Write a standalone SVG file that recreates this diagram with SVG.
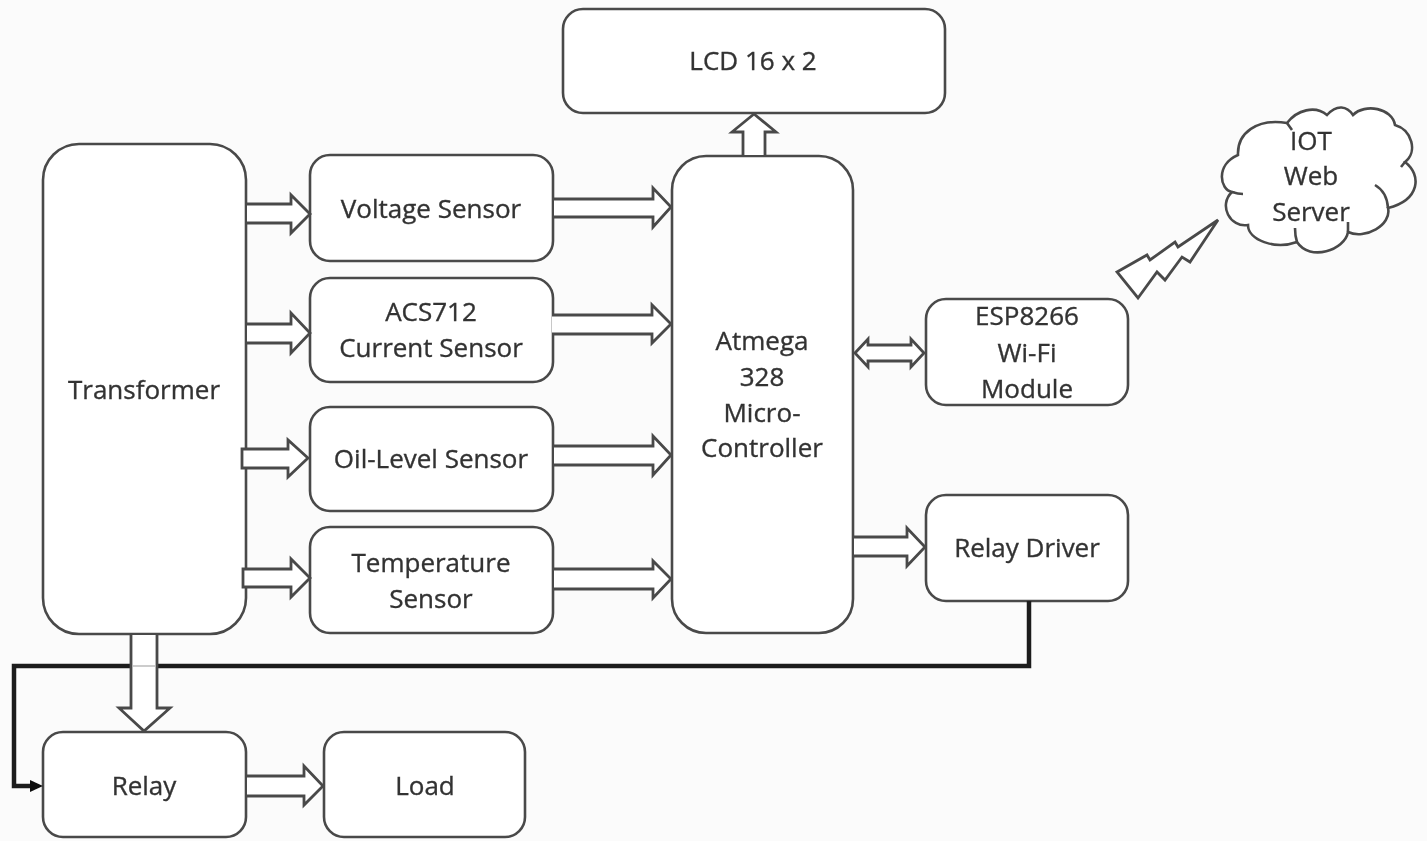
<svg xmlns="http://www.w3.org/2000/svg" width="1427" height="841" viewBox="0 0 1427 841">
<style>
.n{fill:#fff;stroke:#4a4a4a;stroke-width:2.6}
.a{fill:#fff;stroke:#4a4a4a;stroke-width:2.8;stroke-linejoin:miter}
.l{fill:none;stroke:#4a4a4a;stroke-width:2.6}
text{font-family:"Open Sans","Noto Sans","Liberation Sans",sans-serif;font-size:26px;fill:#333;stroke:#333;stroke-width:.35;text-anchor:middle}
</style>
<defs><filter id="soft" filterUnits="userSpaceOnUse" x="0" y="0" width="1427" height="841"><feGaussianBlur stdDeviation="0.6"/></filter></defs>
<rect width="1427" height="841" fill="#fbfbfb"/>
<g filter="url(#soft)">
<g id="lcd"><rect class="n" x="563" y="9" width="382" height="104" rx="20"/><text x="753" y="70">LCD 16 x 2</text></g>
<g id="transformer"><rect class="n" x="43" y="144" width="203" height="490" rx="36"/><text x="144" y="399">Transformer</text></g>
<g id="voltage"><rect class="n" x="310" y="155" width="243" height="106" rx="20"/><text x="431" y="218">Voltage Sensor</text></g>
<g id="current"><rect class="n" x="310" y="278" width="243" height="104" rx="20"/><text x="431" y="321">ACS712</text><text x="431" y="357">Current Sensor</text></g>
<g id="oil"><rect class="n" x="310" y="407" width="243" height="104" rx="20"/><text x="431" y="468">Oil-Level Sensor</text></g>
<g id="temperature"><rect class="n" x="310" y="527" width="243" height="106" rx="20"/><text x="431" y="572">Temperature</text><text x="431" y="608">Sensor</text></g>
<g id="mcu"><rect class="n" x="672" y="156" width="181" height="477" rx="34"/><text x="762" y="350">Atmega</text><text x="762" y="386">328</text><text x="762" y="422">Micro-</text><text x="762" y="457">Controller</text></g>
<g id="esp"><rect class="n" x="926" y="299" width="202" height="106" rx="20"/><text x="1027" y="325">ESP8266</text><text x="1027" y="362">Wi-Fi</text><text x="1027" y="398">Module</text></g>
<g id="driver"><rect class="n" x="926" y="495" width="202" height="106" rx="20"/><text x="1027" y="557">Relay Driver</text></g>
<g id="relay"><rect class="n" x="43" y="732" width="203" height="105" rx="20"/><text x="144" y="795">Relay</text></g>
<g id="load"><rect class="n" x="324" y="732" width="201" height="105" rx="20"/><text x="425" y="795">Load</text></g>
<g id="cloud">
<path class="n" d="M1232 192C1220 190 1215 165 1238 155C1237 133 1257 118 1287 123C1297 110 1315 105 1327 115C1337 104 1347 106 1353 115C1365 103 1392 108 1395 125C1412 130 1418 152 1405 162C1422 175 1420 200 1388 208C1392 225 1365 240 1348 232C1345 250 1310 262 1297 242C1275 250 1248 240 1248 225C1230 228 1218 205 1232 192Z"/>
<path class="l" d="M1232 192Q1238 194 1243 194M1375 185Q1387 192 1388 208M1295 228Q1295 236 1297 242M1348 222V232M1287 123L1292 130M1405 162L1401 167"/>
<text x="1311" y="150">IOT</text><text x="1311" y="185">Web</text><text x="1311" y="221">Server</text></g>
<g id="connectors">
<path d="M1029 601V666H14V786H32" fill="none" stroke="#1a1a1a" stroke-width="4.5"/>
<path d="M30 780L43 786L30 792Z" fill="#111"/>
<path class="a" d="M247 204H291V195L310 214L291 233V223H247"/>
<path class="a" d="M554 199H653V188L671 207L653 227V217H554"/>
<path class="a" d="M247 324H291V313L310 333L291 353V343H247"/>
<path class="a" d="M552 315H652V305L671 324L652 343V334H552"/>
<path class="a" d="M242 449H288V440L308 458L288 477V468H242Z"/>
<path class="a" d="M554 446H653V436L671 455L653 475V465H554"/>
<path class="a" d="M243 569H291V559L310 578L291 597V587H243Z"/>
<path class="a" d="M554 569H653V561L671 579L653 598V589H554"/>
<path class="a" d="M854 537H907V528L925 547L907 566V556H854"/>
<path class="a" d="M855 353L868 339V345H911V339L924 353L911 367V361H868V367Z"/>
<path class="a" d="M743 155V132H732L754 114L776 132H765V155"/>
<path class="a" d="M247 776H304V766L323 786L304 805V796H247"/>
<path class="a" d="M131 635V708H119L144 731L170 708H157V635"/>
<path d="M133 666H155" stroke="#ccc" stroke-width="2"/>
<path class="a" d="M1117 272L1147 255L1150 260L1175 242L1178 247L1218 220L1190 262L1182 257L1165 280L1157 272L1138 298Z"/>
</g>
</g>
</svg>
